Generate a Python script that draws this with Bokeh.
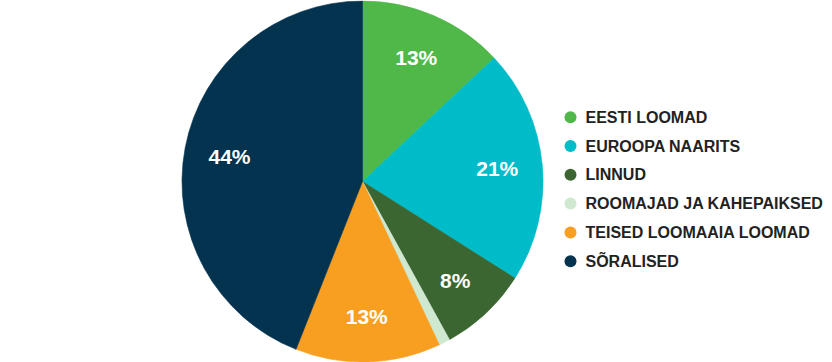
import math
from bokeh.plotting import figure
from bokeh.models import ColumnDataSource, Range1d
from bokeh.core.properties import value
from bokeh.embed import file_html
from bokeh.resources import INLINE

categories = ["EESTI LOOMAD", "EUROOPA NAARITS", "LINNUD",
              "ROOMAJAD JA KAHEPAIKSED", "TEISED LOOMAAIA LOOMAD", "SÕRALISED"]
shares = [13, 21, 8, 1, 13, 44]
colors = ["#4fb848", "#00bcc8", "#3b6631", "#cfe8d0", "#f89f22", "#04334f"]

W, H = 832, 362
CX, CY, R = 362, 181, 180.5
LABEL_R = 0.75 * R

total = float(sum(shares))
starts, ends, lx, ly, labels = [], [], [], [], []
cum = 0.0
for v in shares:
    a0 = math.pi / 2 - 2 * math.pi * (cum + v) / total
    a1 = math.pi / 2 - 2 * math.pi * cum / total
    starts.append(a0)
    ends.append(a1)
    mid = (a0 + a1) / 2
    lx.append(CX + LABEL_R * math.cos(mid))
    ly.append(CY + LABEL_R * math.sin(mid))
    labels.append(f"{v}%" if v >= 5 else "")
    cum += v

src = ColumnDataSource(dict(start=starts, end=ends, color=colors, lx=lx, ly=ly,
                            label=labels, cat=categories))

p = figure(width=W, height=H, output_backend="svg", toolbar_location=None,
           x_range=Range1d(0, W), y_range=Range1d(0, H), min_border=0)
p.axis.visible = False
p.grid.visible = False
p.outline_line_color = None
p.background_fill_color = "white"

p.wedge(x=CX, y=CY, radius=R, start_angle="start", end_angle="end",
        fill_color="color", line_color="color", line_width=0.6, source=src)

p.text(x="lx", y="ly", text="label", source=src, text_color="white",
       text_font=value("Liberation Sans"), text_font_style="bold",
       text_font_size="21px", text_align="center", text_baseline="middle")

# legend
LEG_X, LEG_Y0, LEG_DY = 570, H - 116.7, 28.8
leg_y = [LEG_Y0 - i * LEG_DY for i in range(len(categories))]
leg = ColumnDataSource(dict(x=[LEG_X] * len(categories), tx=[LEG_X + 15] * len(categories),
                            y=leg_y, color=colors, cat=categories))
p.scatter(x="x", y="y", size=12, marker="circle", fill_color="color",
          line_color=None, source=leg)
p.text(x="tx", y="y", text="cat", source=leg, text_color="#222222",
       text_font=value("Liberation Sans"), text_font_style="bold",
       text_font_size="16px", text_align="left", text_baseline="middle")

open("out.html", "w").write(file_html(p, INLINE))
